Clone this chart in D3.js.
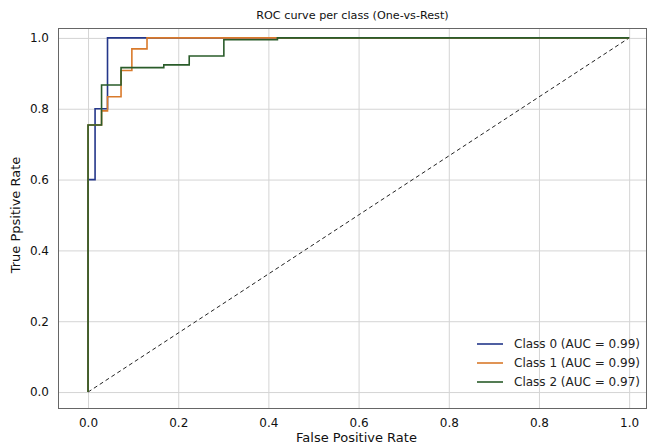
<!DOCTYPE html>
<html>
<head>
<meta charset="utf-8">
<script src="https://cdn.jsdelivr.net/npm/d3@7/dist/d3.min.js"></script>
<style>
  html, body { margin: 0; padding: 0; background: #fff; }
  svg { display: block; }
  text { font-family: "DejaVu Sans", sans-serif; }
</style>
</head>
<body>
<div id="chart"></div>
<script>
// ---- data ----
const classNames = ["Class 0 (AUC = 0.99)", "Class 1 (AUC = 0.99)", "Class 2 (AUC = 0.97)"];
const classColors = ["#24378a", "#d97a2b", "#2a5c2a"];

const fpr0 = [0, 0, 0.013, 0.013, 0.036, 0.036, 1];
const tpr0 = [0, 0.6, 0.6, 0.8, 0.8, 1, 1];

const fpr1 = [0, 0, 0.025, 0.025, 0.036, 0.036, 0.061, 0.061, 0.081, 0.081, 0.109, 0.109, 1];
const tpr1 = [0, 0.754, 0.754, 0.794, 0.794, 0.834, 0.834, 0.908, 0.908, 0.969, 0.969, 1, 1];

const fpr2 = [0, 0, 0.025, 0.025, 0.061, 0.061, 0.14, 0.14, 0.187, 0.187, 0.251, 0.251, 0.35, 0.35, 1];
const tpr2 = [0, 0.754, 0.754, 0.867, 0.867, 0.916, 0.916, 0.924, 0.924, 0.949, 0.949, 0.995, 0.995, 1, 1];

const chanceX = [0, 1];
const chanceY = [0, 1];

const xTickValues = [0, 0.1667, 0.3333, 0.5, 0.6667, 0.8333, 1.0];
const xTickLabels = ["0.0", "0.2", "0.4", "0.6", "0.8", "0.8", "1.0"];
const yTickValues = [0, 0.2, 0.4, 0.6, 0.8, 1.0];
const yTickLabels = ["0.0", "0.2", "0.4", "0.6", "0.8", "1.0"];

const titleText = "ROC curve per class (One-vs-Rest)";
const xLabelText = "False Positive Rate";
const yLabelText = "True Ppsitive Rate";

// ---- layout ----
const W = 648, H = 446;
const margin = { left: 58, right: 1, top: 28, bottom: 38 };
const pw = W - margin.left - margin.right;
const ph = H - margin.top - margin.bottom;

const svg = d3.select("#chart").append("svg").attr("width", W).attr("height", H);
const g = svg.append("g").attr("transform", `translate(${margin.left},${margin.top})`);

const x = d3.scaleLinear().domain([-0.0555, 1.033]).range([0, pw]);
const y = d3.scaleLinear().domain([-0.045, 1.028]).range([ph, 0]);

// gridlines
const gx = g.append("g").attr("transform", `translate(0,${ph})`)
  .call(d3.axisBottom(x).tickValues(xTickValues).tickSize(-ph).tickFormat(""));
gx.select(".domain").remove();
gx.selectAll("line").attr("stroke", "#d4d4d4").attr("stroke-width", 1);

const gy = g.append("g")
  .call(d3.axisLeft(y).tickValues(yTickValues).tickSize(-pw).tickFormat(""));
gy.select(".domain").remove();
gy.selectAll("line").attr("stroke", "#d4d4d4").attr("stroke-width", 1);

// tick labels
const xl = g.append("g").attr("transform", `translate(0,${ph})`)
  .call(d3.axisBottom(x).tickValues(xTickValues).tickSize(0).tickPadding(10)
    .tickFormat((d, i) => xTickLabels[i]));
xl.select(".domain").remove();
xl.selectAll("text").attr("font-size", 12).attr("fill", "#111").attr("font-family", "DejaVu Sans");

const yl = g.append("g")
  .call(d3.axisLeft(y).tickValues(yTickValues).tickSize(0).tickPadding(9)
    .tickFormat((d, i) => yTickLabels[i]));
yl.select(".domain").remove();
yl.selectAll("text").attr("font-size", 12).attr("fill", "#111").attr("font-family", "DejaVu Sans");

// frame
g.append("rect").attr("x", 0.5).attr("y", 0.5).attr("width", pw - 1).attr("height", ph)
  .attr("fill", "none").attr("stroke", "#666").attr("stroke-width", 1);

// lines
const line = d3.line().x(d => x(d[0])).y(d => y(d[1]));
const plot = g.append("g");

plot.append("path")
  .datum(d3.zip(chanceX, chanceY))
  .attr("d", line)
  .attr("fill", "none").attr("stroke", "#222").attr("stroke-width", 1)
  .attr("stroke-dasharray", "4,3");

const series = [d3.zip(fpr0, tpr0), d3.zip(fpr1, tpr1), d3.zip(fpr2, tpr2)];
series.forEach((s, i) => {
  plot.append("path").datum(s).attr("d", line)
    .attr("fill", "none").attr("stroke", classColors[i]).attr("stroke-width", 1.6)
    .attr("stroke-linejoin", "miter");
});

// legend
const leg = svg.append("g").attr("transform", "translate(477,344)");
classNames.forEach((n, i) => {
  const r = leg.append("g").attr("transform", `translate(0,${i * 19})`);
  r.append("line").attr("x1", 0).attr("x2", 26).attr("y1", 0).attr("y2", 0)
    .attr("stroke", classColors[i]).attr("stroke-width", 1.6);
  r.append("text").attr("x", 37).attr("y", 0).attr("dy", "0.35em")
    .attr("font-size", 12).attr("fill", "#222").text(n);
});

// title & axis labels
svg.append("text").attr("x", margin.left + pw / 2).attr("y", 19)
  .attr("text-anchor", "middle").attr("font-size", 11.2).attr("fill", "#111").text(titleText);

svg.append("text").attr("x", margin.left + pw / 2 + 4).attr("y", 442)
  .attr("text-anchor", "middle").attr("font-size", 13).attr("fill", "#111").text(xLabelText);

svg.append("text").attr("transform", `translate(20,${y(0.5) + margin.top}) rotate(-90)`)
  .attr("text-anchor", "middle").attr("font-size", 13).attr("fill", "#111").text(yLabelText);
</script>
</body>
</html>
